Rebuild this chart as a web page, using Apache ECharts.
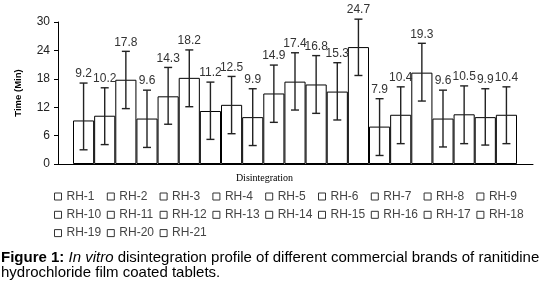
<!DOCTYPE html>
<html>
<head>
<meta charset="UTF-8">
<title>Disintegration</title>
<script src="https://cdn.jsdelivr.net/npm/echarts@6/dist/echarts.min.js"></script>
<style>
  html, body { margin: 0; padding: 0; background: #fff; }
  #chart { width: 543px; height: 290px; }
</style>
</head>
<body>
<div id="chart"></div>
<script>
// brands
var brands = ['RH-1', 'RH-2', 'RH-3', 'RH-4', 'RH-5', 'RH-6', 'RH-7', 'RH-8', 'RH-9', 'RH-10', 'RH-11',
  'RH-12', 'RH-13', 'RH-14', 'RH-15', 'RH-16', 'RH-17', 'RH-18', 'RH-19', 'RH-20', 'RH-21'];
// mean disintegration time (min)
var means = [9.2, 10.2, 17.8, 9.6, 14.3, 18.2, 11.2, 12.5, 9.9, 14.9, 17.4, 16.8, 15.3, 24.7, 7.9, 10.4, 19.3, 9.6, 10.5, 9.9, 10.4];
// error bar ends
var errLow = [3.0, 4.1, 11.7, 3.5, 8.4, 12.1, 5.2, 6.4, 3.9, 8.8, 11.4, 10.7, 9.3, 18.7, 1.8, 4.3, 13.3, 3.6, 4.3, 4.0, 4.3];
var errHigh = [17.1, 16.1, 23.8, 15.6, 20.4, 24.1, 17.3, 18.5, 15.9, 20.9, 23.5, 22.9, 21.4, 30.6, 13.8, 16.3, 25.5, 15.6, 16.5, 15.9, 16.3];
var groupName = ['Disintegration'];

var chart = echarts.init(document.getElementById('chart'));

// one bar series per brand, so the legend lists them
var series = brands.map(function (name, i) {
  return {
    name: name,
    type: 'bar',
    xAxisIndex: 1,
    yAxisIndex: 1,
    stack: 'all',
    barCategoryGap: 0,
    silent: true,
    data: means.map(function (v, j) { return j === i ? v : '-'; }),
    itemStyle: { color: '#fff', borderColor: '#000', borderWidth: 1 }
  };
});

// error bars + value labels
series.push({
  type: 'custom',
  xAxisIndex: 1,
  yAxisIndex: 1,
  clip: false,
  silent: true,
  z: 10,
  data: brands.map(function (b, i) { return [i, errLow[i], errHigh[i], means[i]]; }),
  renderItem: function (params, api) {
    var top = api.coord([api.value(0), api.value(2)]);
    var bot = api.coord([api.value(0), api.value(1)]);
    var cap = 4;
    var st = { stroke: '#222', lineWidth: 1.4 };
    return {
      type: 'group',
      children: [
        { type: 'line', shape: { x1: top[0], y1: top[1], x2: bot[0], y2: bot[1] }, style: st },
        { type: 'line', shape: { x1: top[0] - cap, y1: top[1], x2: top[0] + cap, y2: top[1] }, style: st },
        { type: 'line', shape: { x1: bot[0] - cap, y1: bot[1], x2: bot[0] + cap, y2: bot[1] }, style: st },
        {
          type: 'text', x: top[0], y: top[1] - 3,
          style: {
            text: String(api.value(3)), align: 'center', verticalAlign: 'bottom',
            fontFamily: 'Liberation Sans, Arial, sans-serif', fontSize: 12, fill: '#333'
          }
        }
      ]
    };
  }
});

var option = {
  animation: false,
  grid: [
    { left: 58, right: 10, top: 22, bottom: 126 },
    { left: 73, right: 26, top: 22, bottom: 126 }
  ],
  xAxis: [
    {
      gridIndex: 0,
      type: 'category',
      data: groupName,
      axisLine: { lineStyle: { color: '#000', width: 1 } },
      axisTick: { show: false },
      axisLabel: {
        margin: 9, padding: [0, 62, 0, 0],
        fontFamily: 'Liberation Serif, Times New Roman, serif', fontSize: 10, color: '#000'
      }
    },
    {
      gridIndex: 1,
      type: 'category',
      data: brands,
      show: false
    }
  ],
  yAxis: [
    {
      gridIndex: 0,
      type: 'value',
      min: 0, max: 30, interval: 6,
      name: 'Time (Min)',
      nameLocation: 'middle',
      nameGap: 35,
      nameTextStyle: { fontFamily: 'Liberation Sans, Arial, sans-serif', fontSize: 9.5, fontWeight: 'bold', color: '#000' },
      axisLine: { show: true, lineStyle: { color: '#000', width: 1 } },
      axisTick: { show: true, length: 4, lineStyle: { color: '#000' } },
      axisLabel: { margin: 8, fontFamily: 'Liberation Sans, Arial, sans-serif', fontSize: 12, color: '#222' },
      splitLine: { show: false }
    },
    {
      gridIndex: 1,
      type: 'value',
      min: 0, max: 30, interval: 6,
      show: false,
      splitLine: { show: false }
    }
  ],
  legend: {
    data: brands,
    left: 54,
    top: 190,
    width: 480,
    orient: 'horizontal',
    icon: 'rect',
    itemWidth: 7,
    itemHeight: 7,
    itemGap: 5.3,
    padding: 0,
    selectedMode: false,
    itemStyle: { color: '#fff', borderColor: '#333', borderWidth: 1 },
    textStyle: {
      fontFamily: 'Liberation Sans, Arial, sans-serif', fontSize: 12, color: '#444',
      width: 35, lineHeight: 13
    }
  },
  graphic: [
    {
      type: 'text',
      left: 1,
      top: 250.5,
      style: {
        text: '{b|Figure 1:} {i|In vitro} disintegration profile of different commercial brands of ranitidine\nhydrochloride film coated tablets.',
        fontFamily: 'Liberation Sans, Arial, sans-serif',
        fontSize: 15,
        lineHeight: 15,
        fill: '#000',
        rich: {
          b: { fontWeight: 'bold', fontSize: 15, lineHeight: 15, fontFamily: 'Liberation Sans, Arial, sans-serif' },
          i: { fontStyle: 'italic', fontSize: 15, lineHeight: 15, fontFamily: 'Liberation Sans, Arial, sans-serif' }
        }
      }
    }
  ],
  series: series
};

chart.setOption(option);
</script>
</body>
</html>
